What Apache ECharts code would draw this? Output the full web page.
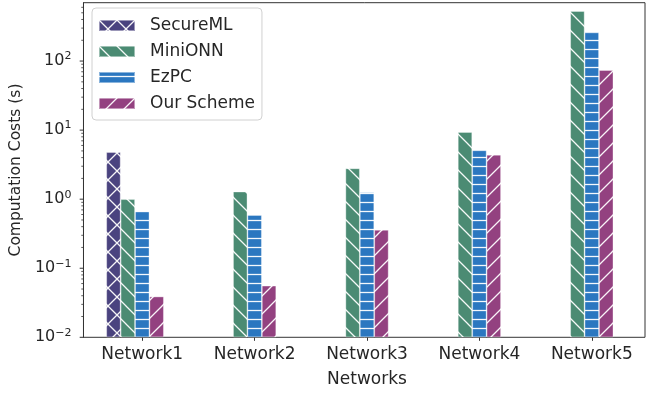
<!DOCTYPE html>
<html>
<head>
<meta charset="utf-8">
<script src="https://cdn.jsdelivr.net/npm/echarts@6/dist/echarts.min.js"></script>
<style>html,body{margin:0;padding:0;background:#fff}#c{width:648px;height:394px}</style>
</head>
<body>
<div id="c"></div>
<script>
var categories = ['Network1', 'Network2', 'Network3', 'Network4', 'Network5'];
var seriesNames = ['SecureML', 'MiniONN', 'EzPC', 'Our Scheme'];
var secureML = [4.8, null, null, null, null];
var miniONN = [1.0, 1.29, 2.8, 9.4, 530];
var ezPC = [0.67, 0.59, 1.26, 5.1, 260];
var ourScheme = [0.039, 0.056, 0.36, 4.4, 74];
var yMin = 0.01, yMax = 700;
var majorTicks = [0.01, 0.1, 1, 10, 100];

var FONT = 'DejaVu Sans';
var TXT = '#262626';

function makePattern(color, kind) {
  var T = kind === 'h' ? 9 : 18;
  var c = document.createElement('canvas');
  c.width = T; c.height = T;
  var g = c.getContext('2d');
  g.fillStyle = color; g.fillRect(0, 0, T, T);
  g.strokeStyle = 'rgba(255,255,255,0.95)';
  g.lineWidth = 1.3;
  g.beginPath();
  if (kind === 'h') {
    g.moveTo(0, 4.5); g.lineTo(T, 4.5);
  }
  if (kind === 'b' || kind === 'x') {
    for (var k = -1; k <= 1; k++) { g.moveTo(k * T - 2, -2); g.lineTo(k * T + T + 2, T + 2); }
  }
  if (kind === 'f' || kind === 'x') {
    for (var k2 = -1; k2 <= 1; k2++) { g.moveTo(k2 * T - 2, T + 2); g.lineTo(k2 * T + T + 2, -2); }
  }
  g.stroke();
  return { image: c, repeat: 'repeat' };
}

var colors = ['#4a437f', '#4b8b73', '#2b77c0', '#934180'];
var kinds = ['x', 'b', 'h', 'f'];
var dataSets = [secureML, miniONN, ezPC, ourScheme];

var minorVals = [];
majorTicks.forEach(function (d) {
  for (var m = 2; m <= 9; m++) {
    var v = m * d;
    if (v < yMax) minorVals.push(v);
  }
});

function fmtLog(v) {
  var l = Math.log10(v);
  var n = Math.round(l);
  if (Math.abs(l - n) > 1e-6) return '';
  var s = String(n).replace('-', '\u2212');
  return '{b|10}{s|' + s + '}';
}

var BAR_W = 14.4;
var series = [];
for (var i = 0; i < 4; i++) {
  series.push({
    name: seriesNames[i],
    type: 'bar',
    xAxisIndex: 1, yAxisIndex: 1,
    data: dataSets[i],
    barWidth: BAR_W,
    barGap: '0%',
    itemStyle: { color: makePattern(colors[i], kinds[i]), borderColor: 'rgba(255,255,255,0.45)', borderWidth: 0.8 }
  });
}
series.push({
  name: '_pad', type: 'bar', xAxisIndex: 1, yAxisIndex: 1,
  data: categories.map(function () { return null; }), barWidth: BAR_W, barGap: '0%'
});
function tickSeries(vals, len, w) {
  return {
    type: 'custom', xAxisIndex: 0, yAxisIndex: 0, silent: true, z: 5,
    data: vals.map(function (v) { return [0, v]; }),
    renderItem: function (params, api) {
      var p = api.coord([0, api.value(1)]);
      return { type: 'line', shape: { x1: p[0] - len, y1: p[1], x2: p[0], y2: p[1] }, style: { stroke: '#333', lineWidth: w } };
    }
  };
}
series.push(tickSeries(minorVals, 2.2, 0.8));
series.push(tickSeries(majorTicks, 3.8, 1));

var chart = echarts.init(document.getElementById('c'), null, { renderer: 'canvas' });
chart.setOption({
  animation: false,
  textStyle: { fontFamily: FONT },
  grid: [
    { left: 82.7, right: 3, top: 2.7, bottom: 56.7, show: true, borderColor: '#333', borderWidth: 1, backgroundColor: 'transparent' },
    { left: 86.05, width: 576.5, top: 2.7, bottom: 56.7 }
  ],
  xAxis: [
    { type: 'value', gridIndex: 0, min: 0, max: 1, show: false },
    { type: 'category', gridIndex: 1, data: categories,
      axisLine: { show: false },
      axisTick: { show: true, alignWithLabel: true, length: 3.5, lineStyle: { color: '#333', width: 1 } },
      axisLabel: { fontSize: 17, color: TXT, margin: 9, fontFamily: FONT },
      name: 'Networks', nameLocation: 'middle', nameGap: 34,
      nameTextStyle: { fontSize: 17, color: TXT, fontFamily: FONT }
    }
  ],
  yAxis: [
    { type: 'log', gridIndex: 0, logBase: 10, min: yMin, max: yMax,
      axisLine: { show: true, lineStyle: { color: '#333' } },
      axisTick: { show: false },
      splitLine: { show: false },
      axisLabel: { margin: 12, color: TXT, formatter: fmtLog, showMaxLabel: false,
        rich: { b: { fontSize: 16, color: TXT, fontFamily: FONT }, s: { fontSize: 11, color: TXT, fontFamily: FONT, verticalAlign: 'top', padding: [0, 0, 9, 0] } } },
      name: 'Computation Costs (s)', nameLocation: 'middle', nameGap: 58, nameRotate: 90,
      nameTextStyle: { fontSize: 15.5, color: TXT, fontFamily: FONT }
    },
    { type: 'log', gridIndex: 1, logBase: 10, min: yMin, max: yMax, startValue: yMin, show: false }
  ],
  legend: {
    data: seriesNames, orient: 'vertical', left: 92, top: 8,
    itemWidth: 36, itemHeight: 11, itemGap: 9,
    padding: [9, 7, 8, 6],
    backgroundColor: 'rgba(255,255,255,0.8)', borderColor: '#d0d0d0', borderWidth: 1, borderRadius: 4,
    textStyle: { fontSize: 17, color: TXT, fontFamily: FONT, lineHeight: 16, padding: [0, 0, 0, 10] },
    icon: 'rect'
  },
  series: series
});
</script>
</body>
</html>
